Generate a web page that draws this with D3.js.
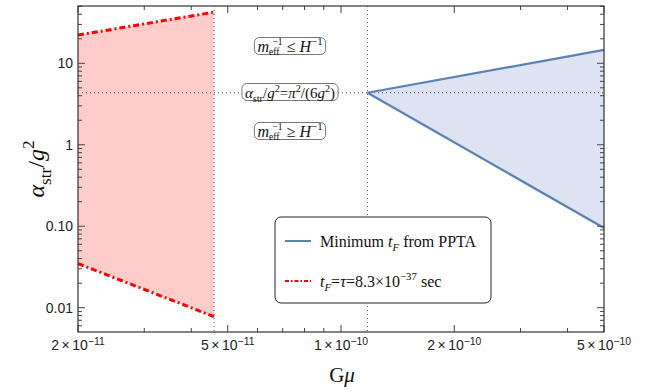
<!DOCTYPE html>
<head>
  <style>
    body { margin: 0; background: #fff; }
    .tick-label { font-family: "Liberation Sans", Arial, sans-serif; fill: #222; }
    .serif { font-family: "Liberation Serif", "Times New Roman", serif; fill: #111; }
  </style>
  <script src="https://d3js.org/d3.v7.min.js"></script>
  <title></title>
</head>
<body>
<div class="home"></div>
</body>
<script>
    // values
    const gmuTau = [2e-11, 4.6e-11];          // red band: G mu
    const tauUpper = [22.2, 42.5];            // upper dash-dot edge
    const tauLower = [0.0348, 0.00776];       // lower dash-dot edge
    const gmuPPTA = [1.176e-10, 5e-10];       // blue wedge: G mu
    const pptaUpper = [4.35, 14.6];
    const pptaLower = [4.35, 0.095];
    const gmuCuts = [4.6e-11, 1.176e-10];     // vertical dotted lines
    const alphaCut = 4.35;                    // horizontal dotted line

    const xMajor = [2e-11, 5e-11, 1e-10, 2e-10, 5e-10];
    const xMantissa = ["2", "5", "1", "2", "5"];
    const xExponent = ["\u221211", "\u221211", "\u221210", "\u221210", "\u221210"];
    const yMajor = [0.01, 0.1, 1, 10];
    const yLabels = ["0.01", "0.10", "1", "10"];

    const width = 654, height = 392;
    const margin = {left: 78, right: 50, top: 6, bottom: 60};

    const svg = d3.select(".home").append("svg")
        .attr("width", width)
        .attr("height", height);

    const x = d3.scaleLog().domain([2e-11, 5e-10]).range([margin.left, width - margin.right]);
    const y = d3.scaleLog().domain([0.00503, 50.5]).range([height - margin.bottom, margin.top]);

    // small helper for text with italics, sub- and superscripts
    function rich(textSel, parts, size) {
        let shift = 0;
        parts.forEach(p => {
            const target = p.s === "sup" ? -(p.up || 0.4) * size : p.s === "sub" ? (p.down || 0.28) * size : 0;
            const ts = textSel.append("tspan")
                .text(p.t)
                .attr("font-size", p.s ? size * (p.k || 0.68) : size);
            if (target - shift !== 0) ts.attr("dy", target - shift);
            if (p.i) ts.attr("font-style", "italic");
            if (p.dx) ts.attr("dx", p.dx);
            shift = target;
        });
        return textSel;
    }

    // shaded regions
    const area = d3.area()
        .x(d => x(d[0]))
        .y0(d => y(d[1]))
        .y1(d => y(d[2]));

    svg.append("path")
        .datum(gmuTau.map((g, i) => [g, tauLower[i], tauUpper[i]]))
        .attr("d", area)
        .attr("fill", "#ffcccc");

    svg.append("path")
        .datum(gmuPPTA.map((g, i) => [g, pptaLower[i], pptaUpper[i]]))
        .attr("d", area)
        .attr("fill", "#dde3f0");

    // dotted guide lines
    svg.selectAll(".vcut")
        .data(gmuCuts)
        .enter().append("line")
        .attr("x1", d => x(d)).attr("x2", d => x(d))
        .attr("y1", y.range()[1]).attr("y2", y.range()[0])
        .attr("stroke", "#555").attr("stroke-width", 1).attr("stroke-dasharray", "1,3");

    svg.append("line")
        .attr("x1", x.range()[0]).attr("x2", x.range()[1])
        .attr("y1", y(alphaCut)).attr("y2", y(alphaCut))
        .attr("stroke", "#555").attr("stroke-width", 1).attr("stroke-dasharray", "1,3");

    // boundary lines
    const line = d3.line().x(d => x(d[0])).y(d => y(d[1]));
    const blue = "#5e81b5";
    const red = "#ff0000";

    [pptaUpper, pptaLower].forEach(arr => {
        svg.append("path")
            .datum(gmuPPTA.map((g, i) => [g, arr[i]]))
            .attr("d", line)
            .attr("fill", "none").attr("stroke", blue).attr("stroke-width", 2.2);
    });

    [tauUpper, tauLower].forEach(arr => {
        svg.append("path")
            .datum(gmuTau.map((g, i) => [g, arr[i]]))
            .attr("d", line)
            .attr("fill", "none").attr("stroke", red).attr("stroke-width", 3)
            .attr("stroke-dasharray", "6,3,2,3");
    });

    // frame with inward ticks on all four sides
    const x0 = x.range()[0], x1 = x.range()[1], y0 = y.range()[0], y1 = y.range()[1];
    const xMinor = x.ticks().filter(t => !xMajor.some(m => Math.abs(m - t) / m < 1e-6));
    const yMinor = y.ticks().filter(t => !yMajor.some(m => Math.abs(m - t) / m < 1e-6));
    const tickColor = "#444";

    function ticks(vals, len) {
        vals.forEach(v => {
            const px = x(v);
            svg.append("line").attr("x1", px).attr("x2", px).attr("y1", y0).attr("y2", y0 - len)
                .attr("stroke", tickColor);
            svg.append("line").attr("x1", px).attr("x2", px).attr("y1", y1).attr("y2", y1 + len)
                .attr("stroke", tickColor);
        });
    }
    function yticks(vals, len) {
        vals.forEach(v => {
            const py = y(v);
            svg.append("line").attr("x1", x0).attr("x2", x0 + len).attr("y1", py).attr("y2", py)
                .attr("stroke", tickColor);
            svg.append("line").attr("x1", x1).attr("x2", x1 - len).attr("y1", py).attr("y2", py)
                .attr("stroke", tickColor);
        });
    }
    ticks(xMajor, 7);
    ticks(xMinor, 4);
    yticks(yMajor, 7);
    yticks(yMinor, 4);

    svg.append("rect")
        .attr("x", x0).attr("y", y1).attr("width", x1 - x0).attr("height", y0 - y1)
        .attr("fill", "none").attr("stroke", "#333").attr("stroke-width", 1.2);

    // tick labels
    xMajor.forEach((v, i) => {
        const t = svg.append("text").attr("class", "tick-label")
            .attr("x", x(v)).attr("y", y0 + 18).attr("text-anchor", "middle");
        rich(t, [{t: xMantissa[i]}, {t: "\u00d7", dx: 2.5}, {t: "10", dx: 2.5}, {t: xExponent[i], s: "sup", k: 0.74, up: 0.36}], 14);
    });

    yMajor.forEach((v, i) => {
        svg.append("text").attr("class", "tick-label")
            .attr("x", x0 - 5).attr("y", y(v)).attr("dy", "0.35em")
            .attr("text-anchor", "end")
            .attr("font-size", 14)
            .text(yLabels[i]);
    });

    // axis titles
    rich(svg.append("text").attr("class", "serif")
        .attr("x", 342).attr("y", 382).attr("text-anchor", "middle"),
        [{t: "G"}, {t: "\u03bc", i: true}], 21);

    rich(svg.append("text").attr("class", "serif")
        .attr("transform", `translate(44,${(y0 + y1) / 2}) rotate(-90)`).attr("text-anchor", "middle"),
        [{t: "\u03b1", i: true}, {t: "str", s: "sub", k: 0.72}, {t: "/"}, {t: "g", i: true}, {t: "2", s: "sup", k: 0.72}], 24);

    // annotation boxes around the dotted line
    const stackSub = {t: "eff", s: "sub", k: 0.6, down: 0.22};
    const stackSup = {t: "\u22121", s: "sup", k: 0.6, up: 0.42, dx: -7};
    const annot = [
        {cy: 46, size: 16, parts: [{t: "m", i: true}, stackSub, stackSup, {t: " \u2264 "}, {t: "H", i: true}, {t: "\u22121", s: "sup"}]},
        {cy: 92, size: 15, parts: [{t: "\u03b1", i: true}, {t: "str", s: "sub"}, {t: "/"}, {t: "g", i: true}, {t: "2", s: "sup"}, {t: "="}, {t: "\u03c0", i: true}, {t: "2", s: "sup"}, {t: "/(6"}, {t: "g", i: true}, {t: "2", s: "sup"}, {t: ")"}]},
        {cy: 131, size: 16, parts: [{t: "m", i: true}, stackSub, stackSup, {t: " \u2265 "}, {t: "H", i: true}, {t: "\u22121", s: "sup"}]}
    ];
    annot.forEach(a => {
        const g = svg.append("g");
        const t = g.append("text").attr("class", "serif")
            .attr("x", 290).attr("y", a.cy).attr("dy", "0.35em").attr("text-anchor", "middle");
        rich(t, a.parts, a.size);
        const bb = t.node().getBBox();
        g.insert("rect", "text")
            .attr("x", bb.x - 3).attr("y", a.cy - 8.5)
            .attr("width", bb.width + 6).attr("height", 17)
            .attr("rx", 5)
            .attr("fill", "#fff").attr("stroke", "#777").attr("stroke-width", 1);
    });

    // legend
    const legend = svg.append("g");
    legend.append("rect")
        .attr("x", 275).attr("y", 217).attr("width", 216).attr("height", 86)
        .attr("rx", 6)
        .attr("fill", "#fff").attr("stroke", "#222").attr("stroke-width", 1);

    const legendItems = [
        {color: blue, dash: null, w: 2, parts: [{t: "Minimum "}, {t: "t", i: true}, {t: "F", i: true, s: "sub"}, {t: " from PPTA"}]},
        {color: red, dash: "4,2,1.5,2", w: 2, parts: [{t: "t", i: true}, {t: "F", i: true, s: "sub"}, {t: "="}, {t: "\u03c4", i: true}, {t: "=8.3\u00d710"}, {t: "\u221237", s: "sup"}, {t: " sec"}]}
    ];
    legendItems.forEach((d, i) => {
        const ly = 241 + i * 40;
        legend.append("line")
            .attr("x1", 285).attr("x2", 311).attr("y1", ly).attr("y2", ly)
            .attr("stroke", d.color).attr("stroke-width", d.w)
            .attr("stroke-dasharray", d.dash);
        const t = legend.append("text").attr("class", "serif")
            .attr("x", 320).attr("y", ly).attr("dy", "0.35em");
        rich(t, d.parts, 16);
    });
</script>
